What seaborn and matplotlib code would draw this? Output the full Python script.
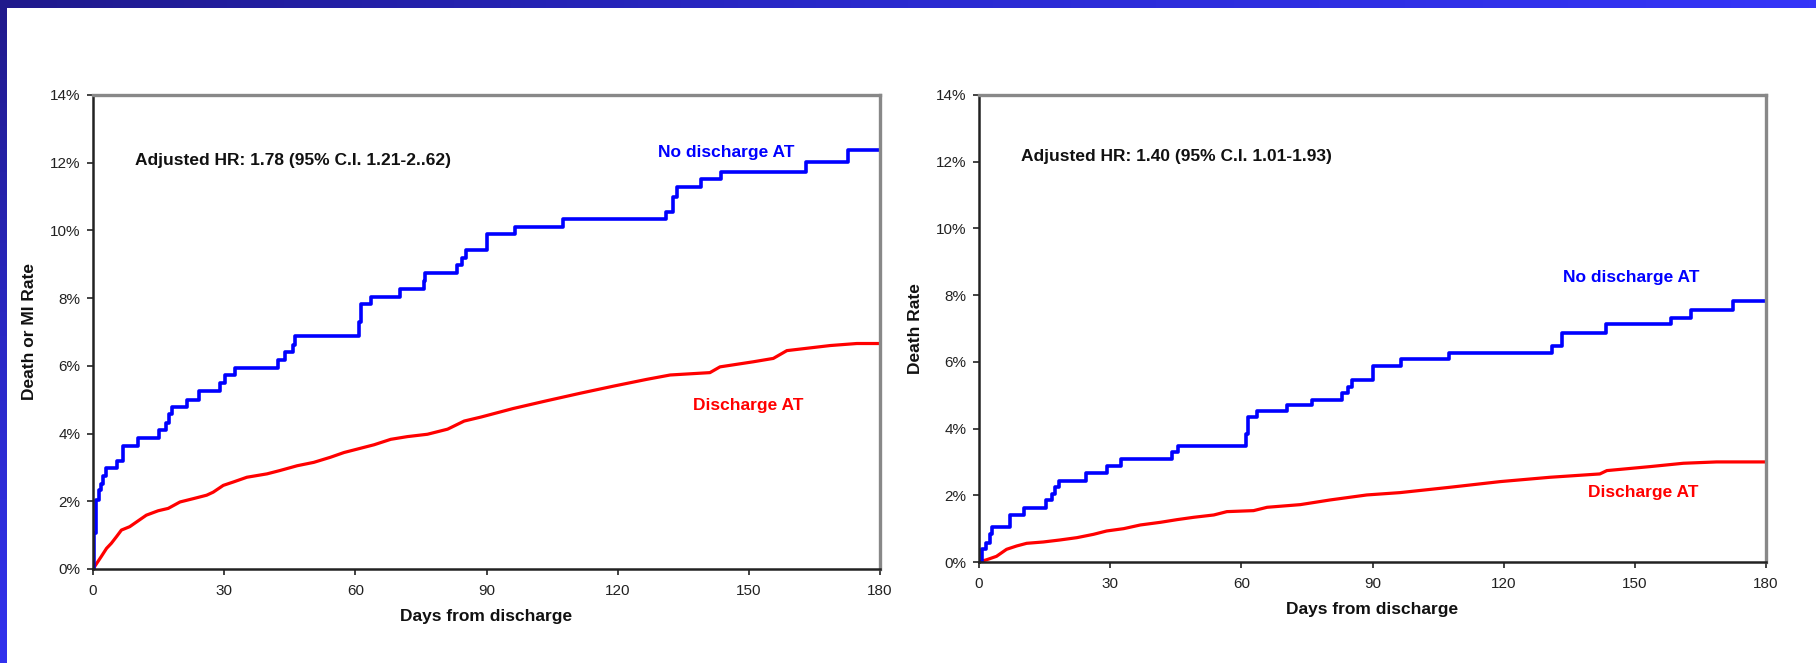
import numpy as np
import pandas as pd
import matplotlib
matplotlib.use("Agg")
import matplotlib.pyplot as plt
from matplotlib import font_manager
from matplotlib.colors import LinearSegmentedColormap
from matplotlib.ticker import PercentFormatter
import seaborn as sns

# Kaplan-Meier style curves (days, cumulative %)
# left panel: death or MI
mi_no_days = [0, 0.3, 0.77, 1.4, 1.9, 2.3, 2.9, 5.4, 6.9, 10.3, 15.1, 16.7, 17.4, 18.1, 21.4, 24.3,
              29.1, 30.2, 32.5, 42.2, 44.0, 45.8, 46.3, 60.9, 61.3, 63.5, 70.2, 75.6, 76.0, 83.2,
              84.3, 85.2, 90.0, 96.5, 107.6, 131.0, 132.7, 133.5, 139.1, 143.6, 163.0, 172.6, 180]
mi_no_pct = [0, 1.05, 2.03, 2.32, 2.52, 2.76, 2.98, 3.2, 3.64, 3.88, 4.1, 4.32, 4.57, 4.78, 5.0, 5.25,
             5.49, 5.74, 5.95, 6.18, 6.4, 6.63, 6.88, 7.3, 7.82, 8.04, 8.27, 8.5, 8.73, 8.98,
             9.18, 9.42, 9.88, 10.11, 10.34, 10.55, 11.0, 11.27, 11.52, 11.73, 12.03, 12.37, 12.37]
mi_at_days = [0, 1.9, 3.1, 4.2, 5.4, 6.5, 8.4, 10.3, 12.2, 14.9, 17.2, 19.9, 23.0, 26.0, 27.5, 29.8,
              32.1, 35.2, 39.8, 42.8, 46.7, 50.5, 54.3, 57.4, 60.4, 64.3, 68.1, 71.9, 76.5, 81.1,
              84.9, 88.8, 96.1, 103.8, 111.4, 119.0, 126.6, 132.0, 141.1, 143.4, 151.0, 155.6,
              158.7, 168.6, 174.7, 180]
mi_at_pct = [0, 0.37, 0.61, 0.76, 0.96, 1.15, 1.25, 1.42, 1.59, 1.72, 1.79, 1.98, 2.08, 2.18, 2.27, 2.47,
             2.57, 2.71, 2.81, 2.91, 3.05, 3.15, 3.3, 3.44, 3.54, 3.67, 3.83, 3.91, 3.98, 4.13,
             4.37, 4.49, 4.74, 4.97, 5.19, 5.4, 5.6, 5.73, 5.8, 5.97, 6.12, 6.22,
             6.45, 6.6, 6.66, 6.66]

# right panel: death
d_no_days = [0, 0.6, 1.6, 2.5, 3.05, 7.1, 10.3, 15.3, 16.6, 17.4, 18.2, 24.4, 29.2, 32.5, 44.1, 45.6,
             61.1, 61.5, 63.6, 70.5, 76.1, 83.1, 84.5, 85.2, 90.2, 96.5, 107.6, 131.0, 133.3, 143.4,
             158.2, 162.9, 172.5, 180]
d_no_pct = [0, 0.38, 0.58, 0.83, 1.04, 1.42, 1.63, 1.85, 2.05, 2.25, 2.44, 2.68, 2.88, 3.1, 3.3, 3.49,
            3.83, 4.34, 4.54, 4.7, 4.86, 5.06, 5.26, 5.47, 5.89, 6.08, 6.28, 6.47, 6.87, 7.12,
            7.32, 7.55, 7.82, 7.82]
d_at_days = [0, 1.8, 4.0, 6.3, 8.6, 10.9, 14.7, 18.5, 22.4, 26.2, 29.2, 33.1, 36.9, 41.5, 45.3, 49.1,
             53.7, 56.7, 62.8, 65.9, 73.5, 80.3, 88.7, 96.3, 107.7, 119.2, 130.6, 142.0, 143.6,
             153.5, 161.1, 168.7, 180]
d_at_pct = [0, 0.07, 0.17, 0.38, 0.48, 0.56, 0.6, 0.66, 0.73, 0.83, 0.93, 1.0, 1.11, 1.19, 1.27, 1.34,
            1.41, 1.51, 1.54, 1.64, 1.72, 1.86, 2.01, 2.08, 2.24, 2.41, 2.54, 2.64, 2.74,
            2.86, 2.96, 3.0, 3.0]

x_ticks = [0, 30, 60, 90, 120, 150, 180]
y_ticks = [0, 2, 4, 6, 8, 10, 12, 14]

sns.set_theme(style="white")
plt.rcParams['font.family'] = ['Liberation Sans', 'DejaVu Sans']
names = {f.name for f in font_manager.fontManager.ttflist}
tick_font = 'Liberation Sans Narrow' if 'Liberation Sans Narrow' in names else 'Liberation Sans'

W, H = 1816, 663
fig = plt.figure(figsize=(W / 100, H / 100), dpi=100)
fig.patch.set_facecolor('white')

# slide frame: blue gradient bar on top and left
bg = fig.add_axes([0, 0, 1, 1], zorder=-10)
bg.set_xlim(0, W)
bg.set_ylim(0, H)
bg.axis('off')
top_cmap = LinearSegmentedColormap.from_list('top', ['#201a8c', '#2a2ad0', '#3535f8'])
side_cmap = LinearSegmentedColormap.from_list('side', ['#201a8c', '#2a28c4', '#3232ee'])
bg.imshow(np.linspace(0, 1, 256)[None, :], cmap=top_cmap, extent=[0, W, H - 8, H], aspect='auto')
bg.imshow(np.linspace(0, 1, 256)[:, None], cmap=side_cmap, extent=[0, 7, 0, H - 8], aspect='auto')


def panel(rect, no_d, no_p, at_d, at_p, ylabel, hr_text, hr_y, no_xy, at_xy):
    ax = fig.add_axes(rect)
    no_df = pd.DataFrame({'day': no_d, 'pct': no_p})
    at_df = pd.DataFrame({'day': at_d, 'pct': at_p})
    sns.lineplot(data=at_df, x='day', y='pct', ax=ax, color='#ff0000', lw=2.3,
                 estimator=None, sort=False)
    sns.lineplot(data=no_df, x='day', y='pct', ax=ax, color='#0000ff', lw=2.6,
                 estimator=None, sort=False, drawstyle='steps-post')
    ax.set_xlim(0, 180)
    ax.set_ylim(0, 14)
    ax.set_xticks(x_ticks)
    ax.set_yticks(y_ticks)
    ax.yaxis.set_major_formatter(PercentFormatter(decimals=0))
    ax.tick_params(axis='both', direction='out', length=4, width=1.2, color='#222222',
                   labelcolor='#222222', labelsize=11, left=True, bottom=True)
    ax.tick_params(axis='y', pad=5)
    ax.tick_params(axis='x', pad=7)
    for lab in ax.get_xticklabels() + ax.get_yticklabels():
        lab.set_fontfamily(tick_font)
    for side in ['left', 'bottom']:
        ax.spines[side].set_color('#222222')
        ax.spines[side].set_linewidth(1.8)
    for side in ['top', 'right']:
        ax.spines[side].set_color('#888888')
        ax.spines[side].set_linewidth(2.4)
    ax.set_xlabel('Days from discharge', fontsize=12.5, fontweight='bold', color='#111111', labelpad=8)
    ax.set_ylabel(ylabel, fontsize=12.5, fontweight='bold', color='#111111', labelpad=9)
    ax.text(9.5, hr_y, hr_text, fontsize=12.5, fontweight='bold', color='#111111',
            ha='left', va='center')
    ax.text(no_xy[0], no_xy[1], 'No discharge AT', fontsize=12.5, fontweight='bold',
            color='#0000ff', ha='left', va='center')
    ax.text(at_xy[0], at_xy[1], 'Discharge AT', fontsize=12.5, fontweight='bold',
            color='#ff0000', ha='left', va='center')
    ax.set_facecolor('white')
    return ax


panel([93 / W, 1 - 569 / H, 787 / W, 474 / H], mi_no_days, mi_no_pct, mi_at_days, mi_at_pct,
      'Death or MI Rate', 'Adjusted HR: 1.78 (95% C.I. 1.21-2..62)', 12.08,
      (129.2, 12.29), (137.2, 4.84))
panel([979 / W, 1 - 562 / H, 787 / W, 467 / H], d_no_days, d_no_pct, d_at_days, d_at_pct,
      'Death Rate', 'Adjusted HR: 1.40 (95% C.I. 1.01-1.93)', 12.15,
      (133.6, 8.52), (139.3, 2.09))

fig.savefig('out.png', dpi=100, facecolor='white')
